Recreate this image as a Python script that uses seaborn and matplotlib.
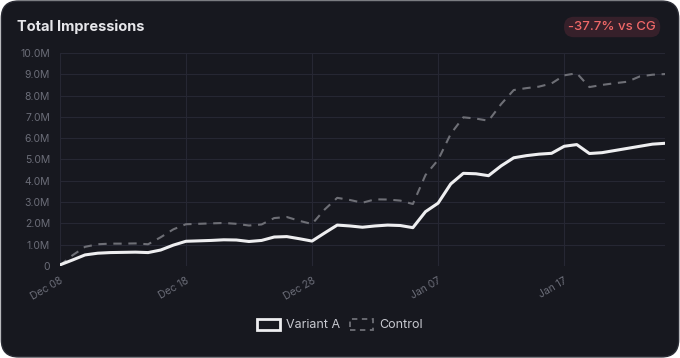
import numpy as np
import pandas as pd
import matplotlib
matplotlib.use("Agg")
import matplotlib.pyplot as plt
import matplotlib.dates as mdates
from matplotlib.patches import FancyBboxPatch, Patch
import seaborn as sns

# daily totals in millions, Dec 08 -> Jan 25
start_date = "2023-12-08"
variant_a = [0.05, 0.28, 0.52, 0.60, 0.63, 0.64, 0.65, 0.63, 0.75, 0.98,
             1.16, 1.18, 1.20, 1.23, 1.22, 1.15, 1.20, 1.36, 1.38, 1.28,
             1.17, 1.55, 1.92, 1.88, 1.82, 1.88, 1.92, 1.90, 1.80, 2.55,
             2.95, 3.85, 4.35, 4.33, 4.24, 4.70, 5.08, 5.18, 5.25, 5.29,
             5.62, 5.70, 5.28, 5.32, 5.42, 5.52, 5.62, 5.72, 5.76]
control = [0.02, 0.50, 0.90, 1.02, 1.05, 1.05, 1.06, 1.02, 1.35, 1.72,
           1.96, 1.98, 2.00, 2.02, 1.98, 1.90, 1.95, 2.25, 2.30, 2.12,
           1.97, 2.65, 3.20, 3.10, 2.97, 3.13, 3.12, 3.07, 2.91, 4.27,
           4.98, 6.20, 6.98, 6.92, 6.82, 7.60, 8.26, 8.35, 8.42, 8.57,
           8.95, 9.05, 8.40, 8.50, 8.58, 8.65, 8.90, 8.98, 9.01]
y_ticks = [0, 1, 2, 3, 4, 5, 6, 7, 8, 9, 10]
badge_text = "-37.7% vs CG"

dates = pd.date_range(start_date, periods=len(variant_a), freq="D")
df = pd.DataFrame({"date": dates, "Variant A": variant_a, "Control": control})

sns.set_style("dark")
plt.rcParams["font.family"] = ["Inter", "DejaVu Sans"]

bg = "#17181f"
grid_c = "#262733"
tick_c = "#6b6d78"

fig = plt.figure(figsize=(6.8, 3.58), dpi=100)
fig.patch.set_facecolor("#ffffff")
card = FancyBboxPatch((0.002, 0.003), 0.996, 0.994,
                      boxstyle="round,pad=0,rounding_size=0.025",
                      transform=fig.transFigure, facecolor=bg,
                      edgecolor="#2c2d36", linewidth=1.0, zorder=-10,
                      mutation_aspect=680 / 358)
fig.patches.append(card)

ax = fig.add_axes([0.088, 0.257, 0.89, 0.595])
ax.set_facecolor(bg)

sns.lineplot(data=df, x="date", y="Control", ax=ax, color="#6e6f76",
             linewidth=1.5, linestyle=(0, (4, 3.2)), dash_joinstyle="round")
sns.lineplot(data=df, x="date", y="Variant A", ax=ax, color="#eeeef0",
             linewidth=2.2, solid_joinstyle="round", solid_capstyle="round")

ax.set_ylim(0, 10)
ax.set_xlim(dates[0], dates[-1])
ax.set_yticks(y_ticks)
ax.set_yticklabels(["0"] + [f"{v:.1f}M" for v in y_ticks[1:]])
ax.set_xticks(pd.date_range(start_date, periods=5, freq="10D"))
ax.xaxis.set_major_formatter(mdates.DateFormatter("%b %d"))
plt.setp(ax.get_xticklabels(), rotation=30, ha="right", rotation_mode="anchor")

ax.grid(True, color=grid_c, linewidth=0.8)
ax.tick_params(axis="both", colors=grid_c, labelcolor=tick_c, labelsize=7.5,
               length=5, width=0.8, pad=2)
ax.set_xlabel("")
ax.set_ylabel("")
for s in ax.spines.values():
    s.set_visible(False)

fig.text(17 / 680, 1 - 27 / 358, "Total Impressions", color="#e6e6ea",
         fontsize=10.5, fontweight="bold", va="center", ha="left")
fig.text(1 - 24 / 680, 1 - 27 / 358, badge_text, color="#f06868",
         fontsize=9.5, fontweight="medium", va="center", ha="right",
         bbox=dict(boxstyle="round,pad=0.32,rounding_size=0.75",
                   facecolor="#36202a", edgecolor="none"))

handles = [Patch(facecolor=bg, edgecolor="#eeeef0", linewidth=2.0, label="Variant A"),
           Patch(facecolor=bg, edgecolor="#6e6f76", linewidth=1.3,
                 linestyle=(0, (3, 2.5)), label="Control")]
leg = fig.legend(handles=handles, loc="center", bbox_to_anchor=(0.5, 1 - 325 / 358),
                 ncol=2, frameon=False, fontsize=9, labelcolor="#c8c9d0",
                 handlelength=1.8, handleheight=1.0, columnspacing=0.8,
                 handletextpad=0.5)

fig.savefig("out.png", dpi=100, facecolor=fig.get_facecolor())
